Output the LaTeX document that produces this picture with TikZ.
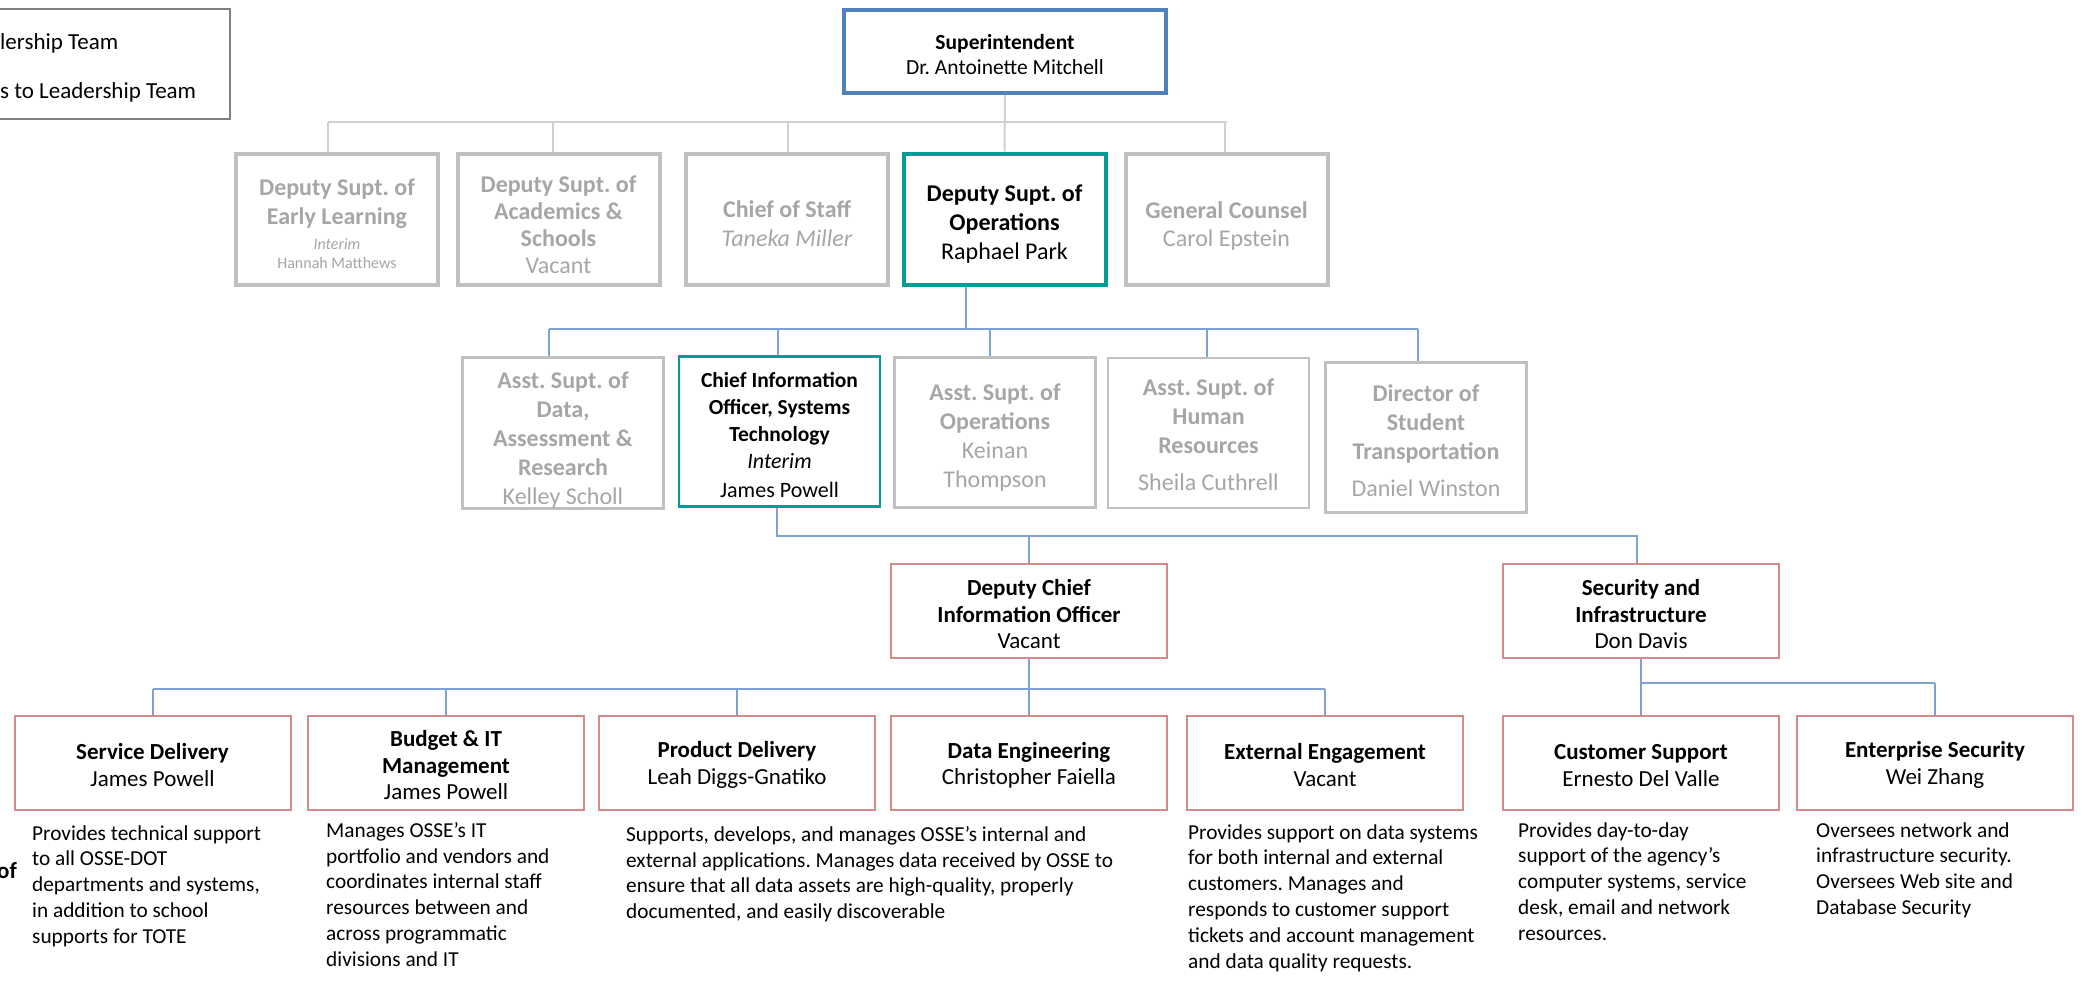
\documentclass[tikz,border=0pt]{standalone}
\usepackage{fontspec}
\setmainfont{Carlito}
% zero-width strut that pushes a box's text block down by half of #1
\newcommand\lowr[1]{\rule{0pt}{\dimexpr0.71em+#1\relax}}
\begin{document}
\frenchspacing
\begin{tikzpicture}[x=1pt,y=-1pt]
\definecolor{supblue}{HTML}{4F81BD}
\definecolor{tealc}{HTML}{009E97}
\definecolor{dimline}{HTML}{C0C0C0}
\definecolor{dimtext}{HTML}{A6A6A6}
\definecolor{unitred}{HTML}{D48A8A}
\definecolor{connB}{HTML}{7FA2D4}
\definecolor{connG}{HTML}{D0D0D0}
\definecolor{legendc}{HTML}{7F7F7F}
\tikzset{
  box/.style={rectangle, draw, inner sep=0pt, align=center},
  supbox/.style={box, draw=supblue, line width=3.5pt, minimum width=322pt, minimum height=83pt, font=\fontsize{21.5}{25}\selectfont},
  lvltwo/.style={box, line width=4pt, minimum width=202pt, minimum height=131pt, font=\fontsize{24}{29}\selectfont},
  dimbox/.style={lvltwo, draw=dimline, text=dimtext},
  focusbox/.style={lvltwo, draw=tealc},
  lvlthree/.style={box, line width=2.5pt, minimum width=201pt, minimum height=150pt, font=\fontsize{24}{29}\selectfont},
  dimboxb/.style={lvlthree, draw=dimline, text=dimtext},
  focusboxb/.style={lvlthree, draw=tealc, font=\fontsize{22}{27}\selectfont},
  unitbox/.style={box, draw=unitred, line width=2pt, minimum width=276pt, minimum height=94pt, font=\fontsize{23}{26.5}\selectfont},
  grayline/.style={draw=connG, line width=2pt},
  blueline/.style={draw=connB, line width=2pt},
  desc/.style={anchor=north west, inner sep=0pt, align=left, font=\fontsize{21.3}{25.8}\selectfont},
  legtext/.style={inner sep=0pt, font=\fontsize{23}{28}\selectfont},
}
\fill[white] (0,0) rectangle (2089,988);
\useasboundingbox (0,0) rectangle (2089,988);

% legend (partly outside the page)
\node[draw=legendc, line width=2pt, minimum width=260pt, minimum height=110pt, inner sep=0pt] (legend) at (100,64) {};
\node[legtext, anchor=west] (leg1) at (0,43) {lership Team};
\node[legtext, anchor=west] (leg2) at (0,92.5) {s to Leadership Team};
\node[legtext, anchor=base east, font=\fontsize{23}{28}\selectfont\bfseries] (ofword) at (17,878) {of};

% top
\node[supbox] (sup) at (1005,51.5) {\lowr{6pt}\textbf{Superintendent}\\Dr. Antoinette Mitchell};

% second level
\node[dimbox] (el) at (337,219) {\textbf{\lowr{10pt}Deputy Supt. of}\\\textbf{Early Learning}\\[-4pt]{\fontsize{16}{19}\selectfont\itshape Interim}\\[-10pt]{\fontsize{16}{19}\selectfont Hannah Matthews}};
\node[dimbox, font=\fontsize{24}{27}\selectfont] (acad) at (558.5,219) {\textbf{\lowr{12pt}Deputy Supt. of}\\\textbf{Academics \&}\\\textbf{Schools}\\Vacant};
\node[dimbox] (cos) at (787,219) {\textbf{\lowr{10pt}Chief of Staff}\\\textit{Taneka Miller}};
\node[focusbox] (dops) at (1004.5,219) {\textbf{\lowr{10pt}Deputy Supt. of}\\\textbf{Operations}\\Raphael Park};
\node[dimbox, font=\fontsize{24}{28}\selectfont] (gc) at (1226.5,219) {\textbf{\lowr{14pt}General Counsel}\\Carol Epstein};

% third level
\node[dimboxb] (dar) at (563,433) {\textbf{\lowr{14pt}Asst. Supt. of}\\\textbf{Data,}\\\textbf{Assessment \&}\\\textbf{Research}\\Kelley Scholl};
\node[focusboxb] (cio) at (779.5,431.5) {{\fontsize{21.5}{27}\selectfont\bfseries\lowr{6pt}Chief Information}\\{\fontsize{21.5}{27}\selectfont\bfseries Officer, Systems}\\{\fontsize{21.5}{27}\selectfont\bfseries Technology}\\\textit{Interim}\\[2pt]James Powell};
\node[dimboxb] (aops) at (995,432.5) {\textbf{\lowr{10pt}Asst. Supt. of}\\\textbf{Operations}\\Keinan\\Thompson};
\node[dimboxb] (hr) at (1208.5,433) {\textbf{\lowr{4pt}Asst. Supt. of}\\\textbf{Human}\\\textbf{Resources}\\[8pt]Sheila Cuthrell};
\node[dimboxb] (dst) at (1426,437.5) {\textbf{\lowr{6pt}Director of}\\\textbf{Student}\\\textbf{Transportation}\\[8pt]Daniel Winston};

% fourth level
\node[unitbox] (dcio) at (1029,611) {\textbf{\lowr{6pt}Deputy Chief}\\\textbf{Information Officer}\\Vacant};
\node[unitbox] (sec) at (1641,611) {\textbf{\lowr{6pt}Security and}\\\textbf{Infrastructure}\\Don Davis};

% fifth level
\node[unitbox] (sd) at (152.5,763) {\textbf{\lowr{4pt}Service Delivery}\\James Powell};
\node[unitbox] (bud) at (446,763) {\textbf{\lowr{4pt}Budget \& IT}\\\textbf{Management}\\James Powell};
\node[unitbox] (pd) at (737,763) {\textbf{\lowr{4pt}Product Delivery}\\Leah Diggs-Gnatiko};
\node[unitbox] (de) at (1029,763) {\textbf{\lowr{4pt}Data Engineering}\\Christopher Faiella};
\node[unitbox] (ee) at (1325,763) {\textbf{\lowr{4pt}External Engagement}\\Vacant};
\node[unitbox] (cs) at (1641,763) {\textbf{\lowr{4pt}Customer Support}\\Ernesto Del Valle};
\node[unitbox] (es) at (1935,763) {\textbf{\lowr{4pt}Enterprise Security}\\Wei Zhang};

% descriptions
\node[desc] (sdtxt) at (32,825) {Provides technical support\\to all OSSE-DOT\\departments and systems,\\in addition to school\\supports for TOTE};
\node[desc] (budtxt) at (326,822) {Manages OSSE’s IT\\portfolio and vendors and\\coordinates internal staff\\resources between and\\across programmatic\\divisions and IT};
\node[desc] (pdtxt) at (626,826) {Supports, develops, and manages OSSE’s internal and\\external applications. Manages data received by OSSE to\\ensure that all data assets are high-quality, properly\\documented, and easily discoverable};
\node[desc] (eetxt) at (1188,824) {Provides support on data systems\\for both internal and external\\customers. Manages and\\responds to customer support\\tickets and account management\\and data quality requests.};
\node[desc] (cstxt) at (1518,822) {Provides day-to-day\\support of the agency’s\\computer systems, service\\desk, email and network\\resources.};
\node[desc] (estxt) at (1816,822) {Oversees network and\\infrastructure security.\\Oversees Web site and\\Database Security};

% connectors: superintendent to second level
\coordinate (busA) at (0,122);
\draw[grayline] (sup.south) -- (dops.north);
\draw[grayline] ([xshift=-9pt]el.north |- busA) -- (gc.north |- busA);
\foreach \n/\dx in {el/-9, acad/-6, cos/1, gc/-2}
  \draw[grayline] ([xshift=\dx pt]\n.north |- busA) -- ([xshift=\dx pt]\n.north);

% deputy of operations to third level
\coordinate (busB) at (0,329);
\draw[blueline] ([xshift=-39pt]dops.south) -- ([xshift=-39pt]dops.south |- busB);
\draw[blueline] ([xshift=-14pt]dar.north |- busB) -- ([xshift=-8pt]dst.north |- busB);
\foreach \n/\dx in {dar/-14, cio/-2, aops/-5, hr/-2, dst/-8}
  \draw[blueline] ([xshift=\dx pt]\n.north |- busB) -- ([xshift=\dx pt]\n.north);

% CIO to fourth level
\coordinate (busC) at (0,536);
\draw[blueline] ([xshift=-3pt]cio.south) -- ([xshift=-3pt]cio.south |- busC) -- ([xshift=-4pt]sec.north |- busC) -- ([xshift=-4pt]sec.north);
\draw[blueline] (dcio.north |- busC) -- (dcio.north);

% deputy CIO to units
\coordinate (busD) at (0,689);
\draw[blueline] (dcio.south) -- (dcio.south |- busD);
\draw[blueline] (sd.north |- busD) -- (ee.north |- busD);
\foreach \n in {sd, bud, pd, de, ee}
  \draw[blueline] (\n.north |- busD) -- (\n.north);

% security to units
\coordinate (busE) at (0,683);
\draw[blueline] (sec.south) -- (sec.south |- busE) -- (es.north |- busE);
\foreach \n in {cs, es}
  \draw[blueline] (\n.north |- busE) -- (\n.north);
\end{tikzpicture}
\end{document}
